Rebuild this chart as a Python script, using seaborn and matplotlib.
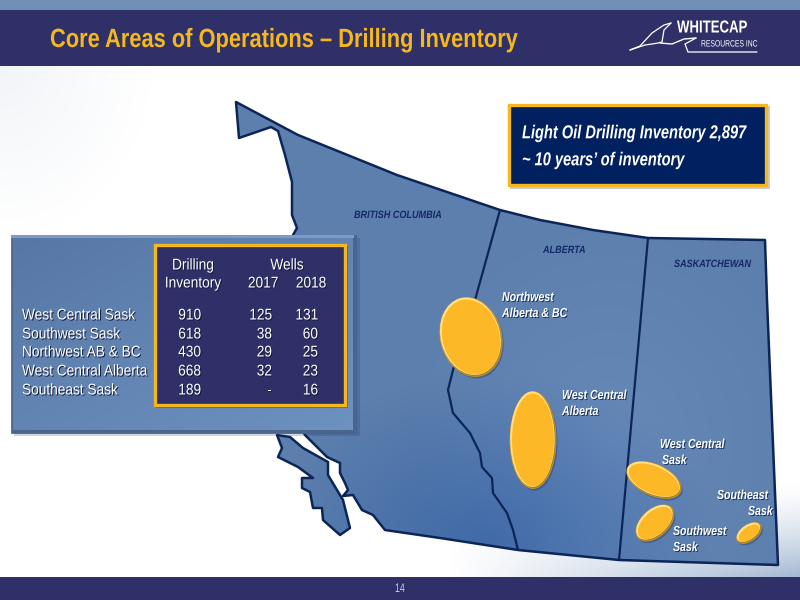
import numpy as np
import matplotlib
matplotlib.use("Agg")
import matplotlib.pyplot as plt
import matplotlib.patheffects as pe
from matplotlib.colors import to_rgba
from matplotlib.patches import Ellipse, Polygon, Rectangle
from matplotlib.transforms import Affine2D
import seaborn as sns
import pandas as pd

# ---- data -------------------------------------------------------------
areas = ["West Central Sask", "Southwest Sask", "Northwest AB & BC", "West Central Alberta", "Southeast Sask"]
inventory = ["910", "618", "430", "668", "189"]
wells_2017 = ["125", "38", "29", "32", "-"]
wells_2018 = ["131", "60", "25", "23", "16"]
row_y = [315, 334, 352, 371, 390]

bubble_x = [471, 533, 654, 655, 749]
bubble_y = [337, 440, 480, 523, 533]
bubble_w = [61, 46, 58, 45, 28]
bubble_h = [80, 97, 31, 27, 16]
bubble_a = [-15, 0, 24, -42, -35]

map_outline = [(236,102),(298,135),(397,175),(500,210),(540,220),(593,230),(648,238),(765,240),(767,300),(778,565),
               (619,560),(518,550),(440,538),(385,530),(373,515),(362,510),(353,495),(343,496),(348,490),(345,483),
               (340,473),(340,463),(327,457),(305,435),(300,425),(293,235),(297,228),(292,215),(292,182),(285,155),
               (278,131),(271,127),(239,138)]
island = [(277,435),(290,437),(303,448),(328,462),(328,475),(343,500),(350,528),(340,535),(323,520),(322,508),
          (313,508),(310,492),(302,488),(302,478),(313,478),(298,467),(278,457),(282,448)]
ab_bc_border = [(500,210),(475,300),(453,370),(448,390),(453,413),(470,433),(480,453),(482,467),(492,478),(493,493),(507,513),(513,530),(518,550)]
ab_sk_border = [(648,238),(619,560)]

NAVY = "#2f3068"
GOLD = "#fdb827"
EDGE = "#0c2558"
FONT = ["Liberation Sans", "DejaVu Sans"]


class Narrow(pe.AbstractPathEffect):
    """Draws text condensed horizontally, as the narrow face of the slide."""

    def __init__(self, sx, anchor=0.0, shadow=None, sy=1.0):
        super().__init__()
        self.sx, self.anchor, self.shadow, self.sy = sx, anchor, shadow, sy

    def draw_path(self, renderer, gc, tpath, affine, rgbFace=None):
        w = tpath.vertices[:, 0].max() if len(tpath.vertices) else 0
        shift = self.anchor * w * (1 - self.sx)
        tr = Affine2D().scale(self.sx, self.sy).translate(shift, 0) + affine
        if self.shadow:
            tr2 = tr + Affine2D().translate(1.0, -1.0)
            renderer.draw_path(gc, tpath, tr2, to_rgba(self.shadow))
        renderer.draw_path(gc, tpath, tr, rgbFace)


sns.set_theme(style="white")
plt.rcParams["font.family"] = FONT

fig = plt.figure(figsize=(8, 6), dpi=100)
ax = fig.add_axes([0, 0, 1, 1])
extent = (0, 800, 600, 0)

# slide background
yy, xx = np.mgrid[0:600, 0:800]
corner = np.clip(1 - np.hypot(xx / 150, (yy - 66) / 170), 0, 1)
br = np.clip((yy - 480) / 97, 0, 1) ** 1.5 * np.clip((xx - 450) / 350, 0, 1)
k = np.clip(0.09 * corner + 0.62 * br, 0, 1)
base = np.array([0.42, 0.55, 0.72])
bg = (1 - k)[..., None] * np.array([1, 1, 1]) + k[..., None] * base
ax.imshow(bg, extent=extent, aspect="auto", zorder=0)

# map
t = np.clip(1 - np.hypot((xx - 490) / 230, (yy - 540) / 170), 0, 1)
l = np.clip(1 - np.hypot((xx - 610) / 200, (yy - 440) / 220), 0, 1)
c0 = np.array([0.365, 0.50, 0.68])
mp = c0 + t[..., None] * np.array([-0.12, -0.09, -0.03]) + l[..., None] * np.array([0.035, 0.035, 0.04])
for shape in (map_outline, island):
    im = ax.imshow(mp, extent=extent, aspect="auto", zorder=1)
    clip = Polygon(shape, closed=True, transform=ax.transData)
    im.set_clip_path(clip)
    ax.add_patch(Polygon(shape, closed=True, fill=False, ec=EDGE, lw=1.8, joinstyle="round", zorder=2))
for line in (ab_bc_border, ab_sk_border):
    a = np.array(line)
    ax.plot(a[:, 0], a[:, 1], color=EDGE, lw=1.6, zorder=2)

# bubbles: centres through seaborn, extents as ellipses
frame = pd.DataFrame({"x": bubble_x, "y": bubble_y})
sns.scatterplot(data=frame, x="x", y="y", ax=ax, color=GOLD, s=10, linewidth=0, legend=False, zorder=6)
for x, y, w, h, a in zip(bubble_x, bubble_y, bubble_w, bubble_h, bubble_a):
    ax.add_patch(Ellipse((x + 1.5, y + 2), w, h, angle=a, fc="#1a2f5c", alpha=0.35, ec="none", zorder=3))
    ax.add_patch(Ellipse((x, y), w, h, angle=a, fc="#a97f1e", ec="#c8962a", lw=0.6, zorder=4))
    ax.add_patch(Ellipse((x - 0.6, y - 0.8), w - 1.5, h - 1.5, angle=a, fc="#ffe08a", ec="none", zorder=4.5))
    ax.add_patch(Ellipse((x, y), w - 4, h - 4, angle=a, fc=GOLD, ec="none", zorder=5))

map_labels = [("Northwest", 502, 298), ("Alberta & BC", 502, 314),
              ("West Central", 562, 396), ("Alberta", 562, 412),
              ("West Central", 660, 445), ("Sask", 662, 461),
              ("Southeast", 717, 496), ("Sask", 748, 512),
              ("Southwest", 673, 532), ("Sask", 673, 548)]
for s, x, y in map_labels:
    ax.text(x, y, s, color="white", fontsize=9.4, style="italic", weight="bold", ha="left", va="center", zorder=7,
            path_effects=[Narrow(0.81, 0, "#1c3560")])
for s, x, y in [("BRITISH COLUMBIA", 354, 215), ("ALBERTA", 543, 250), ("SASKATCHEWAN", 674, 264)]:
    ax.text(x, y, s, color="#14296a", fontsize=7.6, style="italic", weight="bold", ha="left", va="center", zorder=7,
            path_effects=[Narrow(0.86)])

# table panel
ax.add_patch(Rectangle((14, 238), 346, 198, fc="#1a2f5c", alpha=0.2, ec="none", zorder=8))
ax.add_patch(Rectangle((11, 235), 345, 198, fc="#4a668c", ec="#44608a", lw=0.5, zorder=8))
ax.add_patch(Rectangle((11, 235), 343, 3, fc="#7c9ac4", ec="none", zorder=8.05))
panel_t = np.linspace(0, 1, 100)[None, :] * 0.5 + np.linspace(0, 1, 100)[:, None] * 0.5
panel = np.array([0.34, 0.47, 0.65]) + panel_t[..., None] * np.array([0.09, 0.10, 0.10])
ax.imshow(panel, extent=(13, 353, 430, 238), aspect="auto", zorder=8.1)

ax.add_patch(Rectangle((156, 246), 192, 162, fc="#14264f", alpha=0.4, ec="none", zorder=8.5))
ax.add_patch(Rectangle((154.5, 244.5), 190, 160, fc=NAVY, ec="#f5b71e", lw=2.4, zorder=9))

TSX = 0.88
tbl = dict(color="white", fontsize=11.2, va="center", zorder=10)
SH = "#141a3a"
def cell(x, y, s, ha, sx=TSX):
    anchor = {"left": 0.0, "center": 0.5, "right": 1.0}[ha]
    ax.text(x, y, s, ha=ha, path_effects=[Narrow(sx, anchor, SH)], **tbl)

cell(193, 265, "Drilling", "center")
cell(193, 283, "Inventory", "center")
cell(287, 265, "Wells", "center")
cell(263, 283, "2017", "center")
cell(311, 283, "2018", "center")
for name, inv, w17, w18, y in zip(areas, inventory, wells_2017, wells_2018, row_y):
    cell(22, y, name, "left")
    cell(201, y, inv, "right")
    cell(272, y, w17, "right")
    cell(318, y, w18, "right")

# callout
ax.add_patch(Rectangle((510, 106), 260, 83, fc="#6d6d6d", alpha=0.35, ec="none", zorder=8.5))
ax.add_patch(Rectangle((508.5, 104.5), 257, 80, fc="#00205f", ec="#f5b71e", lw=2.4, zorder=9))
for s, y in [("Light Oil Drilling Inventory 2,897", 134.3), ("~ 10 years\u2019 of inventory", 161.3)]:
    ax.text(522, y, s, color="white", fontsize=11, style="italic", weight="bold", va="center", zorder=10,
            path_effects=[Narrow(0.957, 0, None, 1.227)])

# header and footer
ax.add_patch(Rectangle((0, 0), 800, 10, fc="#7090b8", ec="none", zorder=11))
ax.add_patch(Rectangle((0, 10), 800, 56, fc=NAVY, ec="none", zorder=11))
ax.add_patch(Rectangle((0, 577), 800, 23, fc=NAVY, ec="none", zorder=11))
ax.text(50, 40, "Core Areas of Operations \u2013 Drilling Inventory", color="#f5b71e", fontsize=19, weight="bold",
        va="center", ha="left", zorder=12, path_effects=[Narrow(0.828)])
ax.text(400, 589, "14", color="#c9cde0", fontsize=9, ha="center", va="center", zorder=12,
        path_effects=[Narrow(0.7, 0.5)])

# logo
ax.text(677, 28, "WHITECAP", color="white", fontsize=12.5, weight="bold", va="center", ha="left", zorder=12,
        path_effects=[Narrow(0.76)])
ax.text(701, 44, "RESOURCES INC", color="white", fontsize=6.6, va="center", ha="left", zorder=12,
        path_effects=[Narrow(0.74)])
ax.plot([630, 640, 652, 664, 671], [50, 46, 33, 25, 23], color="white", lw=0.9, zorder=12)
ax.plot([630, 645, 652, 658, 662, 664, 671], [50, 45, 44, 43, 42, 30, 23], color="white", lw=0.9, zorder=12)
ax.plot([660, 672, 684, 696], [43, 44, 39, 38], color="white", lw=1, zorder=12)
ax.plot([696, 685, 688, 757], [38, 44, 52, 52], color="white", lw=0.9, zorder=12)

ax.set_xlim(0, 800)
ax.set_ylim(600, 0)
ax.set_axis_off()
fig.savefig("out.png", dpi=100)
